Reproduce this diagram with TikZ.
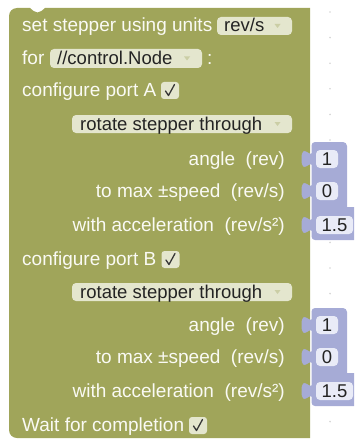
\documentclass[tikz,border=0pt]{standalone}
\usepackage{fontspec}
\setmainfont{Liberation Sans}
\definecolor{olivec}{RGB}{160,165,90}
\definecolor{fieldc}{RGB}{228,230,206}
\definecolor{bluec}{RGB}{166,171,214}
\definecolor{bfieldc}{RGB}{233,235,247}
\definecolor{labelc}{RGB}{250,250,244}
\definecolor{ftextc}{RGB}{35,35,35}
\definecolor{arrowc}{RGB}{203,206,165}
\definecolor{dotc}{RGB}{212,212,212}
\definecolor{checkc}{RGB}{55,55,55}
\newcommand\gapsp{\hspace{0.556em}}
\begin{document}
\begin{tikzpicture}[x=1pt,y=-1pt,
  lbl/.style={inner sep=0pt,text=labelc,font=\fontsize{19}{21}\selectfont},
  ftxt/.style={inner sep=0pt,text=ftextc,font=\fontsize{18.5}{21}\selectfont},
  ddfield/.style={fill=fieldc,rounded corners=4pt,inner sep=0pt},
  numfield/.style={fill=bfieldc,rounded corners=4pt,inner sep=0pt,minimum height=18pt,text=ftextc,font=\fontsize{18.5}{21}\selectfont},
  chkbox/.style={fill=fieldc,rounded corners=3pt,inner sep=0pt,minimum width=18pt,minimum height=17pt},
  chkmark/.style={draw=checkc,line width=1.3pt,line cap=round,line join=round}]
\useasboundingbox (0,0) rectangle (354,441);
% grid dots
\foreach \k in {0,...,16} \fill[dotc] (330,{12+25.6*\k}) circle (0.9);
% main block
\fill[olivec] (9,16) .. controls (9,11.58) and (12.58,8) .. (17,8) -- (30,8)
  .. controls (33,10) and (34,12.5) .. (37.5,12.5) .. controls (41,12.5) and (42,10) .. (45,8)
  -- (310,8) -- (310,438) -- (17,438) .. controls (12.58,438) and (9,434.42) .. (9,430) -- cycle;
% value blocks
\foreach \o in {0,166}{
  \fill[bluec] (315,{142+\o}) -- (343,{142+\o}) .. controls (345.2,{142+\o}) and (347,{143.8+\o}) .. (347,{146+\o})
    -- (347,{207+\o}) -- (354,{207+\o}) -- (354,{240+\o}) -- (315,{240+\o})
    .. controls (313,{240+\o}) and (311.5,{238.5+\o}) .. (311.5,{236.5+\o}) -- (311.5,{145.5+\o})
    .. controls (311.5,{143.5+\o}) and (313,{142+\o}) .. (315,{142+\o}) -- cycle;
  \foreach \c in {159,191,225}{
    \fill[bluec] (312.5,{\c-9+\o}) .. controls (312.5,{\c+3+\o}) and (301.5,{\c-18.6+\o}) .. (301.5,{\c+\o})
      .. controls (301.5,{\c+18.6+\o}) and (312.5,{\c-3+\o}) .. (312.5,{\c+9+\o}) -- cycle;
  }
}
% row 1
\node[lbl,anchor=base west] (t1) at (22,32) {set stepper using units};
\node[ddfield,minimum width=75pt,minimum height=18pt] (f1) at (254.5,26) {};
\node[ftxt,anchor=base west] (f1t) at (224,32) {rev/s};
\fill[arrowc] (274.5,24) -- (280.5,24) -- (277.5,28) -- cycle;
% row 2
\node[lbl,anchor=base west] (t2) at (22,64.5) {for};
\node[ddfield,minimum width=152pt,minimum height=19pt] (f2) at (126,58.5) {};
\node[ftxt,anchor=base west] (f2t) at (57,64.5) {//control.Node};
\fill[arrowc] (184,56.5) -- (190,56.5) -- (187,60.5) -- cycle;
\node[lbl,anchor=base west] (colon) at (207,64.5) {:};
% row 3
\node[lbl,anchor=base west] (t3) at (22,96) {configure port A};
\node[chkbox] (cA) at (170,90.5) {};
\draw[chkmark] ([shift={(-4.5,0.5)}]cA.center) -- ([shift={(-1.5,5)}]cA.center) -- ([shift={(4.5,-6)}]cA.center);
% row 4
\node[ddfield,minimum width=220pt,minimum height=18pt] (f4) at (182,124) {};
\node[ftxt,anchor=base west] (f4t) at (80,130) {rotate stepper through};
\fill[arrowc] (274.5,122) -- (280.5,122) -- (277.5,126) -- cycle;
% rows 5-7
\node[lbl,anchor=base east] (t5) at (285,165) {angle\gapsp(rev)};
\node[lbl,anchor=base east] (t6) at (285,197) {to max ±speed\gapsp(rev/s)};
\node[lbl,anchor=base east] (t7) at (285,231) {with acceleration\gapsp(rev/s²)};
\node[numfield,minimum width=22pt] (n5) at (327,159) {1};
\node[numfield,minimum width=22pt] (n6) at (327,191) {0};
\node[numfield,minimum width=37pt] (n7) at (334.5,225) {1.5};
% row 8
\node[lbl,anchor=base west] (t8) at (22,265) {configure port B};
\node[chkbox] (cB) at (170.5,259.5) {};
\draw[chkmark] ([shift={(-4.5,0.5)}]cB.center) -- ([shift={(-1.5,5)}]cB.center) -- ([shift={(4.5,-6)}]cB.center);
% row 9
\node[ddfield,minimum width=220pt,minimum height=18pt] (f9) at (182,292) {};
\node[ftxt,anchor=base west] (f9t) at (80,298) {rotate stepper through};
\fill[arrowc] (274.5,290) -- (280.5,290) -- (277.5,294) -- cycle;
% rows 10-12
\node[lbl,anchor=base east] (t10) at (285,331) {angle\gapsp(rev)};
\node[lbl,anchor=base east] (t11) at (285,363) {to max ±speed\gapsp(rev/s)};
\node[lbl,anchor=base east] (t12) at (285,397) {with acceleration\gapsp(rev/s²)};
\node[numfield,minimum width=22pt] (n10) at (327,325) {1};
\node[numfield,minimum width=22pt] (n11) at (327,357) {0};
\node[numfield,minimum width=37pt] (n12) at (334.5,391) {1.5};
% row 13
\node[lbl,anchor=base west] (t13) at (22,431) {Wait for completion};
\node[chkbox] (cW) at (198,425.5) {};
\draw[chkmark] ([shift={(-4.5,0.5)}]cW.center) -- ([shift={(-1.5,5)}]cW.center) -- ([shift={(4.5,-6)}]cW.center);
\end{tikzpicture}
\end{document}
